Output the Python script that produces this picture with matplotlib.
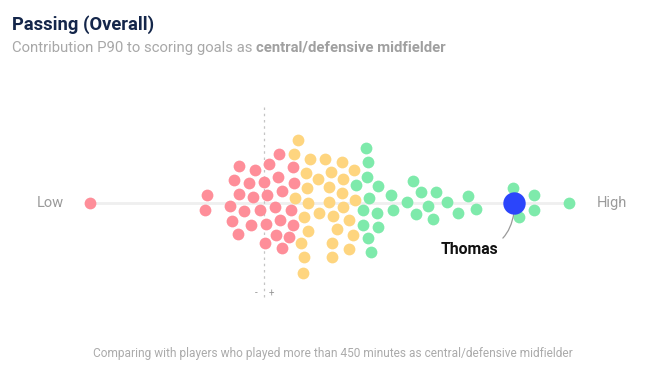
import numpy as np
import matplotlib.pyplot as plt

plt.rcParams['font.family'] = ['Roboto', 'DejaVu Sans']

# score on a 0 (low) .. 100 (high) scale, plus the vertical swarm offset of each dot
pink_score = [0, 24.4, 24.0, 31.1, 34.4, 37.4, 39.5, 30.1, 33.2, 36.3, 39.2, 31.1, 34.0, 37.0, 40.1,
              29.2, 32.2, 35.5, 38.6, 29.6, 33.6, 36.7, 39.7, 30.9, 38.8, 36.5, 40.1, 42.4, 42.6,
              42.0, 42.4, 41.5]
pink_offset = [0, 8, -7, 37, 33, 39, 49, 23, 20, 21, 26, 9, 6, 8, 12,
               -3, -8, -7, -4, -18, -22, -21, -17, -31, -32, -40, -45, 36, 20,
               -7, -22, -34]

yellow_score = [43.4, 42.6, 45.9, 49.1, 52.6, 45.1, 50.3, 47.6, 52.8, 55.1, 45.3, 49.9, 52.6, 42.8,
                45.5, 49.9, 52.8, 55.3, 47.8, 44.7, 50.7, 54.1, 45.5, 51.6, 54.9, 44.1, 50.5, 54.1,
                44.7, 50.5, 44.5]
yellow_offset = [63, 49, 44, 44, 41, 30, 31, 24, 24, 33, 15, 16, 10, 5,
                 0, 1, -4, 3, -10, -14, -13, -17, -28, -26, -32, -40, -40, -46,
                 -54, -54, -70]

green_score = [57.6, 58.0, 57.8, 55.5, 60.1, 58.2, 62.8, 57.0, 59.9, 63.3, 57.0, 60.1, 58.0, 58.7,
               67.4, 69.1, 72.2, 66.2, 70.6, 74.5, 68.1, 71.6, 76.8, 78.9, 80.6, 88.3, 92.7, 92.7,
               89.6, 100]
green_offset = [55, 41, 26, 18, 17, 5, 8, -7, -10, -7, -22, -24, -35, -49,
                22, 11, 11, 1, -3, 1, -11, -16, -10, 7, -6, 15, 8, -7,
                -14, 0]

player_name = "Thomas"
player_score = 88.5
median_score = 36.3

fig = plt.figure(figsize=(6.66, 3.75), dpi=100)
ax = fig.add_axes([0, 0, 1, 1])
ax.set_xlim(-18.79, 120.25)
ax.set_ylim(-172, 203)
ax.axis('off')

# base line and median marker
ax.plot([0, 100], [0, 0], color='#efefef', lw=2, zorder=1)
ax.plot([median_score, median_score], [96, -97], color='#c4c4c4', lw=0.9,
        ls=(0, (2, 3)), zorder=1)
ax.text(median_score - 1.6, -90, '-', color='#999999', fontsize=7, ha='center', va='center')
ax.text(median_score + 1.6, -91, '+', color='#999999', fontsize=7, ha='center', va='center')

ax.scatter(pink_score, pink_offset, s=72, color='#fe8e99', lw=0, zorder=3)
ax.scatter(yellow_score, yellow_offset, s=72, color='#fed57f', lw=0, zorder=3)
ax.scatter(green_score, green_offset, s=72, color='#7eeaab', lw=0, zorder=3)
ax.scatter([player_score], [0], s=260, color='#2b45fb', lw=0, zorder=4)

ax.annotate(player_name, xy=(player_score, -10), xytext=(player_score - 3.3, -46),
            fontsize=11.3, fontweight='bold', color='#111111', ha='right', va='center',
            arrowprops=dict(arrowstyle='-', color='#9a9a9a', lw=0.9,
                            connectionstyle='arc3,rad=0.45', shrinkA=2, shrinkB=0))

ax.text(-5.4, 0, 'Low', color='#9a9a9a', fontsize=10.5, ha='right', va='center')
ax.text(105.8, 0, 'High', color='#9a9a9a', fontsize=10.5, ha='left', va='center')

fig.text(12 / 666, 1 - 25 / 375, 'Passing (Overall)', fontsize=13.2, fontweight='bold',
         color='#14264a', ha='left', va='center')
fig.text(12 / 666, 1 - 48 / 375, 'Contribution P90 to scoring goals as ', fontsize=10.7,
         color='#a8a8a8', ha='left', va='center')
sub = fig.texts[-1]
fig.canvas.draw()
bb = sub.get_window_extent()
fig.text(bb.x1 / 666, 1 - 48 / 375, 'central/defensive midfielder', fontsize=10.7,
         fontweight='bold', color='#a0a0a0', ha='left', va='center')

fig.text(0.5, 1 - 353 / 375,
         'Comparing with players who played more than 450 minutes as central/defensive midfielder',
         fontsize=8.6, color='#ababab', ha='center', va='center')

fig.savefig('out.png', dpi=100, facecolor='white')
